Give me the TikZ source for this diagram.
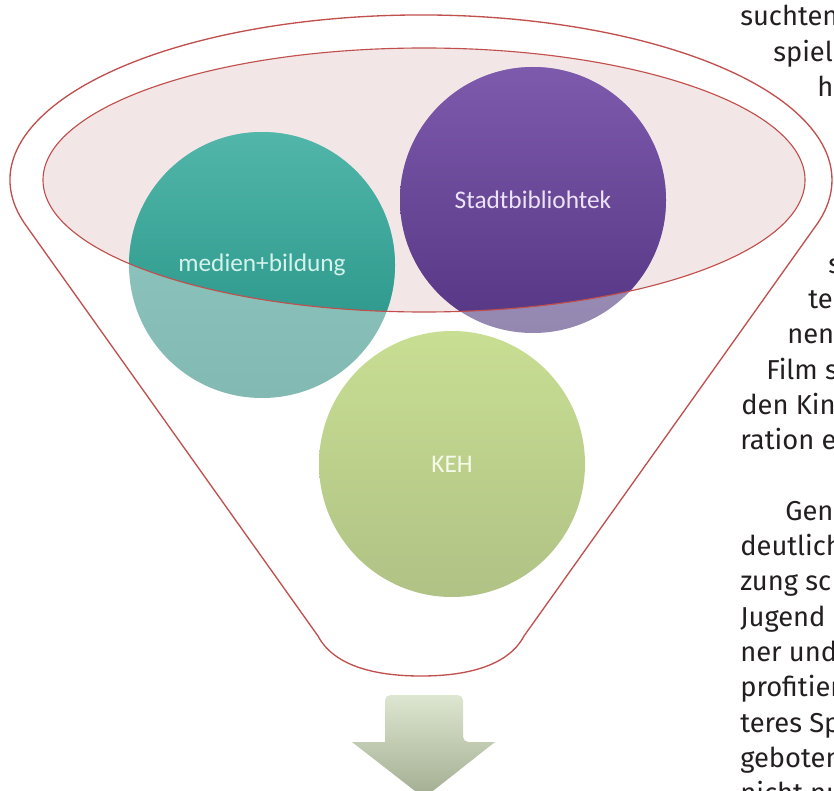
\documentclass[tikz,border=0pt]{standalone}
\usepackage{fontspec}
\newfontfamily\bodyfont{Fira Sans}
\newfontfamily\labelfont{Carlito}
\definecolor{funnelred}{HTML}{C0504D}
\definecolor{rimfill}{HTML}{F3E6E6}
\definecolor{tealLa}{HTML}{92C9C2}
\definecolor{tealLb}{HTML}{82B9B2}
\definecolor{tealDa}{HTML}{52B6AA}
\definecolor{tealDb}{HTML}{1F8E81}
\definecolor{purLa}{HTML}{A596C3}
\definecolor{purLb}{HTML}{9487B0}
\definecolor{purDa}{HTML}{7E5AAD}
\definecolor{purDb}{HTML}{553683}
\definecolor{grnT}{HTML}{C8DE92}
\definecolor{grnB}{HTML}{B0C285}
\definecolor{arrowT}{HTML}{DDE6D0}
\definecolor{arrowB}{HTML}{A2AD90}
\definecolor{bodyblack}{HTML}{231F20}
\definecolor{tealtext}{HTML}{D5F2EC}
\definecolor{purtext}{HTML}{EDE3F7}
\definecolor{grntext}{HTML}{F6FAEA}
\begin{document}
\begin{tikzpicture}[x=0.75pt,y=-0.75pt,
  funnelline/.style={draw=funnelred, line width=1pt},
  rimline/.style={draw=funnelred, line width=0.85pt},
  bubblelabel/.style={font=\labelfont\fontsize{19}{22}\selectfont, inner sep=0pt},
  bodytext/.style={font=\bodyfont\fontsize{20.5}{24}\selectfont, text=bodyblack, anchor=base west, inner sep=0pt}]

\useasboundingbox (0,0) rectangle (834,791);
\clip (0,0) rectangle (834,791);

\coordinate (cT) at (262,265);
\coordinate (cP) at (533,200);
\coordinate (cK) at (452,464);
\coordinate (rim) at (424,180);

% rim fill
\fill[rimfill] (rim) ellipse [x radius=381, y radius=132];

% circles (lighter parts)
\shade[top color=tealLa, bottom color=tealLb] (cT) circle [radius=133];
\shade[top color=purLa, bottom color=purLb] (cP) circle [radius=133];
\shade[top color=grnT, bottom color=grnB] (cK) circle [radius=133];

% darker parts inside the rim
\begin{scope}
  \clip (rim) ellipse [x radius=381, y radius=132];
  \shade[top color=tealDa, bottom color=tealDb] (cT) circle [radius=133];
  \shade[top color=purDa, bottom color=purDb] (cP) circle [radius=133];
\end{scope}

% rim outline
\draw[rimline] (rim) ellipse [x radius=381, y radius=132];

% funnel outline
\draw[funnelline] (24.8,223.8) arc[start angle=164.6, end angle=375.4, x radius=411, y radius=165]
  -- (524,636) .. controls (507,668) and (462,676) .. (421,676)
  .. controls (380,676) and (335,668) .. (318,636) -- cycle;

% labels
\node[bubblelabel, text=tealtext] (medien) at (cT) {medien+bildung};
\node[bubblelabel, text=purtext] (stadt) at (cP) {Stadtbibliohtek};
\node[bubblelabel, text=grntext] (keh) at (cK) {KEH};

% arrow
\shade[top color=arrowT, bottom color=arrowB]
  (352,742) -- (385,742) [rounded corners=4pt] -- (385,695) -- (463,695) -- (463,742) [sharp corners]
  -- (495,742) -- (424,798) -- cycle;

% running text on the right
\node[bodytext] (t0) at (740,26) {suchten};
\node[bodytext] (t1) at (773,61.3) {spiel};
\node[bodytext] (t2) at (817,96.6) {ha};
\node[bodytext] (t3) at (828,273.1) {s};
\node[bodytext] (t4) at (808,308.4) {te};
\node[bodytext] (t5) at (787,343.7) {nen};
\node[bodytext] (t6) at (766,379) {Film s};
\node[bodytext] (t7) at (741,414.3) {den Kin};
\node[bodytext] (t8) at (740,449.6) {ration e};
\node[bodytext] (t9) at (785,520.2) {Gen};
\node[bodytext] (t10) at (740,555.5) {deutlich};
\node[bodytext] (t11) at (740,590.8) {zung sc};
\node[bodytext] (t12) at (740,626.1) {Jugend};
\node[bodytext] (t13) at (740,661.4) {ner und};
\node[bodytext] (t14) at (740,696.7) {profitier};
\node[bodytext] (t15) at (740,732) {teres Sp};
\node[bodytext] (t16) at (740,767.3) {geboten};
\node[bodytext] (t17) at (740,802.6) {nicht nu};
\end{tikzpicture}
\end{document}
